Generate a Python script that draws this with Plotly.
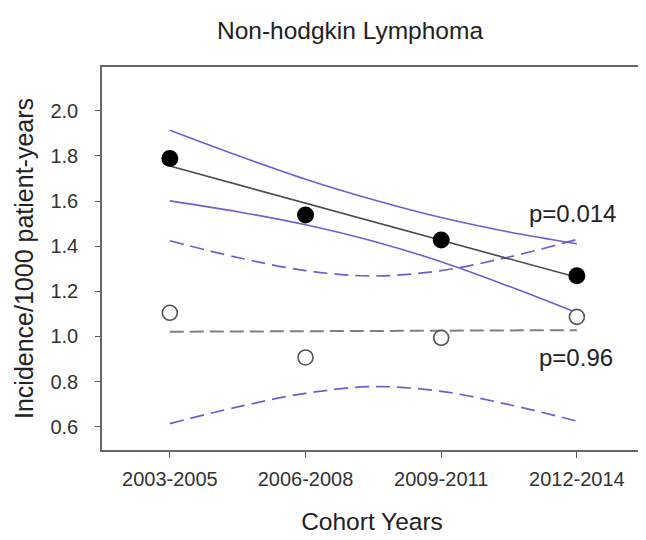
import plotly.graph_objects as go

categories = ["2003-2005", "2006-2008", "2009-2011", "2012-2014"]
cat_pos = [0, 1, 2, 3]

# observed incidence
filled_vals = [1.789, 1.538, 1.427, 1.269]
open_vals = [1.105, 0.907, 0.994, 1.087]

# fitted regression lines (values at first and last cohort)
fit_x = [0, 3]
filled_fit = [1.755, 1.262]
open_fit = [1.021, 1.028]

# confidence bands read at half-cohort steps
band_x = [0, 0.5, 1, 1.5, 2, 2.5, 3]
filled_upper = [1.914, 1.802, 1.697, 1.606, 1.527, 1.463, 1.411]
filled_lower = [1.601, 1.553, 1.495, 1.422, 1.331, 1.222, 1.105]
open_upper = [1.424, 1.350, 1.292, 1.268, 1.292, 1.352, 1.430]
open_lower = [0.614, 0.688, 0.748, 0.778, 0.757, 0.698, 0.625]

y_ticks = [0.6, 0.8, 1.0, 1.2, 1.4, 1.6, 1.8, 2.0]
y_ticklabels = ["0.6", "0.8", "1.0", "1.2", "1.4", "1.6", "1.8", "2.0"]

BLUE = "#6b60d2"
FONT = "Liberation Sans, Arial, sans-serif"

fig = go.Figure()

for ys in (open_upper, open_lower):
    fig.add_trace(go.Scatter(x=band_x, y=ys, mode="lines", line=dict(color=BLUE, width=1.7, dash="14px,7px", shape="spline"),
                             showlegend=False, hoverinfo="skip"))
for ys in (filled_upper, filled_lower):
    fig.add_trace(go.Scatter(x=band_x, y=ys, mode="lines", line=dict(color=BLUE, width=1.6, shape="spline"),
                             showlegend=False, hoverinfo="skip"))

fig.add_trace(go.Scatter(x=fit_x, y=open_fit, mode="lines", line=dict(color="#808080", width=2, dash="14px,6px"),
                         showlegend=False))
fig.add_trace(go.Scatter(x=fit_x, y=filled_fit, mode="lines", line=dict(color="#4a4a4a", width=1.6),
                         showlegend=False))

fig.add_trace(go.Scatter(x=cat_pos, y=open_vals, mode="markers",
                         marker=dict(size=15, color="white", line=dict(color="#555555", width=1.6)),
                         showlegend=False))
fig.add_trace(go.Scatter(x=cat_pos, y=filled_vals, mode="markers",
                         marker=dict(size=17, color="black", line=dict(color="black", width=0)),
                         showlegend=False))

fig.add_annotation(x=2.97, y=1.547, text="p=0.014", showarrow=False, xref="x", yref="y",
                   font=dict(family=FONT, size=24, color="#222222"))
fig.add_annotation(x=2.99, y=0.909, text="p=0.96", showarrow=False, xref="x", yref="y",
                   font=dict(family=FONT, size=24, color="#222222"))

# page body has an 8px margin, so the figure is 8px smaller than the window
fig.update_layout(
    width=638, height=532,
    margin=dict(l=94, r=2, t=59, b=90),
    paper_bgcolor="white", plot_bgcolor="white",
    font=dict(family=FONT, color="#222222"),
    title=dict(text="Non-hodgkin Lymphoma", x=342/638, xanchor="center", y=1-22/532, yanchor="middle",
               font=dict(family=FONT, size=24.5, color="#222222")),
)
fig.update_xaxes(
    range=[-0.5, 3.48], tickmode="array", tickvals=cat_pos, ticktext=categories,
    showgrid=False, zeroline=False, showline=True, mirror=True, linecolor="#666666", linewidth=1.5,
    ticks="outside", ticklen=6, tickwidth=1.2, tickcolor="#555555",
    tickfont=dict(family=FONT, size=20, color="#333333"), ticklabelstandoff=4,
    title=dict(text="Cohort Years", font=dict(family=FONT, size=24.5, color="#222222"), standoff=24),
)
fig.update_yaxes(
    range=[0.497, 2.194], tickmode="array", tickvals=y_ticks, ticktext=y_ticklabels,
    showgrid=False, zeroline=False, showline=True, mirror=True, linecolor="#666666", linewidth=1.5,
    ticks="outside", ticklen=5, tickwidth=1.2, tickcolor="#555555",
    tickfont=dict(family=FONT, size=20, color="#333333"), ticklabelstandoff=13,
    title=dict(text="Incidence/1000 patient-years", font=dict(family=FONT, size=25, color="#222222"), standoff=10),
)

fig.write_html("out.html")
